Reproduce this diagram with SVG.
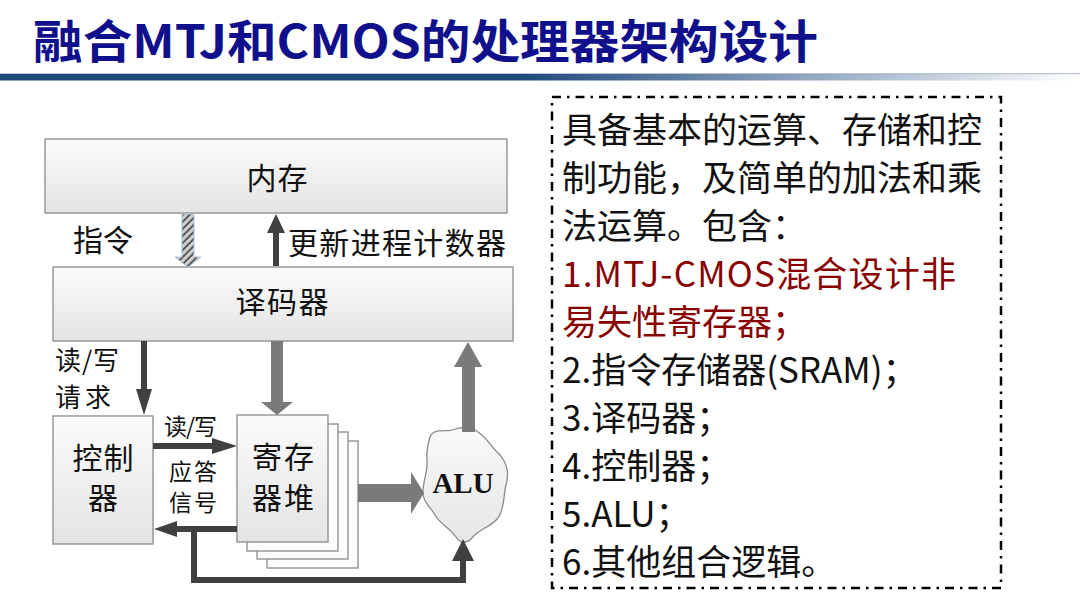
<svg xmlns="http://www.w3.org/2000/svg" width="1080" height="608" viewBox="0 0 1080 608">
<defs>
<linearGradient id="bar" x1="0" y1="0" x2="1" y2="0">
<stop offset="0" stop-color="#1f497d"/>
<stop offset="0.48" stop-color="#1f497d"/>
<stop offset="1" stop-color="#1f497d" stop-opacity="0"/>
</linearGradient>
<linearGradient id="box" x1="0" y1="0" x2="0" y2="1">
<stop offset="0" stop-color="#fbfbfb"/>
<stop offset="1" stop-color="#e4e4e4"/>
</linearGradient>
<linearGradient id="cloud" x1="0" y1="0" x2="0" y2="1">
<stop offset="0" stop-color="#fafafa"/>
<stop offset="1" stop-color="#e6e6e6"/>
</linearGradient>
<pattern id="hatch" width="5" height="5" patternUnits="userSpaceOnUse" patternTransform="rotate(45)">
<rect width="5" height="5" fill="#d0d0d0"/>
<rect width="2" height="5" fill="#5a5a5a"/>
</pattern>
<style>
.title{font-family:"Noto Sans CJK SC","Liberation Sans",sans-serif;font-weight:700;font-size:46px;fill:#10108c}
.node{fill:url(#box);stroke:#8a8a8a;stroke-width:1.3}
.back{fill:#fdfdfd;stroke:#8a8a8a;stroke-width:1.3}
.lbl{font-family:"Noto Sans CJK SC","Liberation Sans",sans-serif;font-size:30px;fill:#111}
.mdl{font-size:26px}
.sm{font-size:23px}
.mid{text-anchor:middle}
.dark{fill:#404040}
.gray{fill:#7a7a7a}
.panel{font-family:"Noto Sans CJK SC","Liberation Sans",sans-serif;font-size:35px;fill:#111}
.red{fill:#880000}
</style>
</defs>

<rect width="1080" height="608" fill="#ffffff"/>

<g id="title">
<text class="title" x="33" y="58" textLength="785" lengthAdjust="spacingAndGlyphs">融合MTJ和CMOS的处理器架构设计</text>
<rect x="0" y="73" width="1080" height="1.2" fill="#b8c4d4"/>
<rect x="0" y="74" width="1080" height="6.5" fill="url(#bar)"/>
</g>

<g id="memory">
<rect class="node" x="45" y="139" width="462" height="74"/>
<text class="lbl mid" x="277" y="189" textLength="61">内存</text>
</g>

<g id="decoder">
<rect class="node" x="53" y="267" width="460" height="74"/>
<text class="lbl mid" x="282" y="313" textLength="93">译码器</text>
</g>

<g id="controller">
<rect class="node" x="53" y="416" width="100" height="128"/>
<text class="lbl mid" x="103" y="469" textLength="61">控制</text>
<text class="lbl mid" x="103" y="509">器</text>
</g>

<g id="registers">
<rect class="back" x="267" y="441" width="91" height="127"/>
<rect class="back" x="257" y="432" width="91" height="127"/>
<rect class="back" x="247" y="424" width="91" height="127"/>
<rect class="node" x="237" y="415" width="91" height="127"/>
<text class="lbl mid" x="283" y="468" textLength="62">寄存</text>
<text class="lbl mid" x="283" y="509" textLength="62">器堆</text>
</g>

<g id="alu">
<path d="M430,437 C433,428 445,432 452,430 C460,427 470,425 478,432 C486,437 490,445 497,452 C506,460 510,472 506,485 C503,497 505,508 498,518 C490,528 480,528 472,538 C468,543 460,544 456,537 C450,528 440,524 435,515 C430,506 422,502 423,490 C424,478 428,470 427,460 C426,450 428,444 430,437 Z" fill="url(#cloud)" stroke="#8a8a8a" stroke-width="1.3"/>
<text x="463" y="493" text-anchor="middle" font-family="'Liberation Serif',serif" font-weight="700" font-size="29" fill="#111">ALU</text>
</g>

<g id="connectors">
<polygon points="182,214 194,214 194,257 201,257 188,267 175,257 182,257" fill="url(#hatch)" stroke="#a9c1d9" stroke-width="1"/>
<polygon class="dark" points="273,266 279,266 279,233 285,233 276,214 267,233 273,233"/>
<polygon class="dark" points="141,341 147,341 147,389 152,389 144,415 136,389 141,389"/>
<polygon class="gray" points="271,341 283,341 283,402 293,402 277,415 261,402 271,402"/>
<polygon class="dark" points="153,443 212,443 212,438 237,446 212,454 212,449 153,449"/>
<polygon class="dark" points="237,526 177,526 177,521 154,529 177,537 177,532 237,532"/>
<polyline points="194,529 194,580 463,580 463,559" fill="none" stroke="#404040" stroke-width="6"/>
<polygon class="dark" points="452,561 474,561 463,539"/>
<polygon class="gray" points="358,484 411,484 411,472 424,493 411,514 411,502 358,502"/>
<polygon class="gray" points="462,432 475,432 475,367 482,367 468,342 454,367 462,367"/>
</g>

<g id="labels">
<text class="lbl" x="73" y="251" textLength="60">指令</text>
<text class="lbl" x="288" y="254" textLength="218">更新进程计数器</text>
<text class="lbl mdl" x="55" y="370" textLength="64">读/写</text>
<text class="lbl mdl" x="55" y="407" textLength="56">请求</text>
<text class="lbl sm" x="164" y="435" textLength="53">读/写</text>
<text class="lbl sm" x="169" y="480" textLength="48">应答</text>
<text class="lbl sm" x="169" y="511" textLength="48">信号</text>
</g>

<g id="panel">
<rect x="552" y="97" width="449" height="491" fill="none" stroke="#000" stroke-width="2.5" stroke-dasharray="9 6 2.5 6"/>
<text class="panel" x="562" y="143">具备基本的运算、存储和控</text>
<text class="panel" x="562" y="191">制功能，及简单的加法和乘</text>
<text class="panel" x="562" y="239">法运算。包含：</text>
<text class="panel red" x="562" y="287" textLength="394">1.MTJ-CMOS混合设计非</text>
<text class="panel red" x="562" y="335">易失性寄存器；</text>
<text class="panel" x="562" y="383">2.指令存储器(SRAM)；</text>
<text class="panel" x="562" y="431">3.译码器；</text>
<text class="panel" x="562" y="479">4.控制器；</text>
<text class="panel" x="562" y="527">5.ALU；</text>
<text class="panel" x="562" y="575">6.其他组合逻辑。</text>
</g>
</svg>
